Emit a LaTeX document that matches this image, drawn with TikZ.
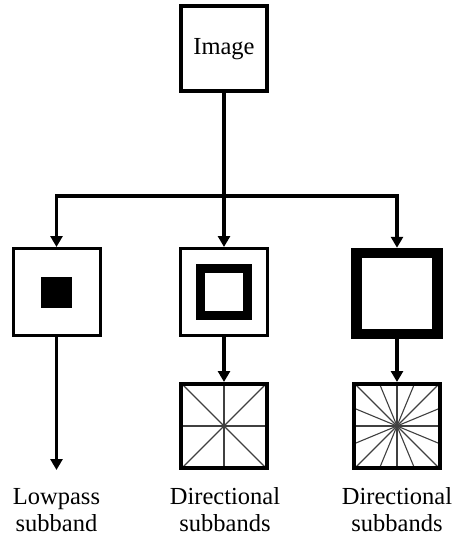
\documentclass[tikz,border=0pt]{standalone}
\usepackage{fontspec}
\setmainfont{Liberation Serif}
\usetikzlibrary{arrows.meta}

\begin{document}
\begin{tikzpicture}[
    % Work in pixel-like units: x goes to the right, y goes down.
    x={(1pt,0pt)},
    y={(0pt,-1pt)},
    % --- Style Definitions ---
    % 'frame' boxes are drawn with a given border thickness.
    frame/.style={draw, black, line width=#1, inner sep=0pt},
    % 'dirbox' boxes carry a star of rays, one every #1 degrees.
    dirbox/.style={frame=4pt, minimum width=86pt, minimum height=84pt,
        path picture={
            \foreach \a in {0,#1,...,359}
                \draw[ray] (path picture bounding box.center) -- ++(\a:70);
        }},
    ray/.style={draw, line width=1.1pt, black!75},
    link/.style={draw, line width=3.2pt, black, -{Triangle[length=11pt,width=12pt]}},
    caption/.style={align=center, anchor=base,
        font=\fontsize{24.5}{27}\selectfont}
]
    \useasboundingbox (0,0) rectangle (457,540);

    % --- Input Image ---
    \node[frame=4pt, minimum width=86pt, minimum height=85pt,
          font=\fontsize{24.5}{27}\selectfont] (img) at (224,49) {Image};

    % --- First Decomposition Level ---
    % Lowpass box with a small solid square in the middle.
    \node[frame=3pt, minimum size=87pt] (low) at (56.5,292) {};
    \node[fill=black, minimum size=31pt, inner sep=0pt] (core) at (low) {};
    % Bandpass box with a thick ring inside.
    \node[frame=3pt, minimum size=87pt] (band) at (224,292) {};
    \node[frame=9pt, minimum size=47pt] (ring) at (band) {};
    % Highpass box with a very thick border.
    \node[frame=10.5pt, minimum size=81pt] (high) at (397,293.5) {};

    % --- Directional Filter Banks ---
    \node[dirbox=45] (dirA) at (224,426) {};
    \node[dirbox=22.5] (dirB) at (397,426) {};

    % --- Connectors ---
    \coordinate (split) at (224,196);
    \coordinate (lowend) at (56.5,470);
    \draw[link] (img.south) -- (band.north);
    \draw[link] (split) -| (low.north);
    \draw[link] (split) -| (high.north);
    \draw[link] (low.south) -- (lowend);
    \draw[link] (band.south) -- (dirA.north);
    \draw[link] (high.south) -- (dirB.north);

    % --- Captions ---
    \node[caption] (lowtxt) at (56.5,531) {Lowpass\\subband};
    \node[caption] (dirAtxt) at (225,531) {Directional\\subbands};
    \node[caption] (dirBtxt) at (397,531) {Directional\\subbands};
\end{tikzpicture}
\end{document}
